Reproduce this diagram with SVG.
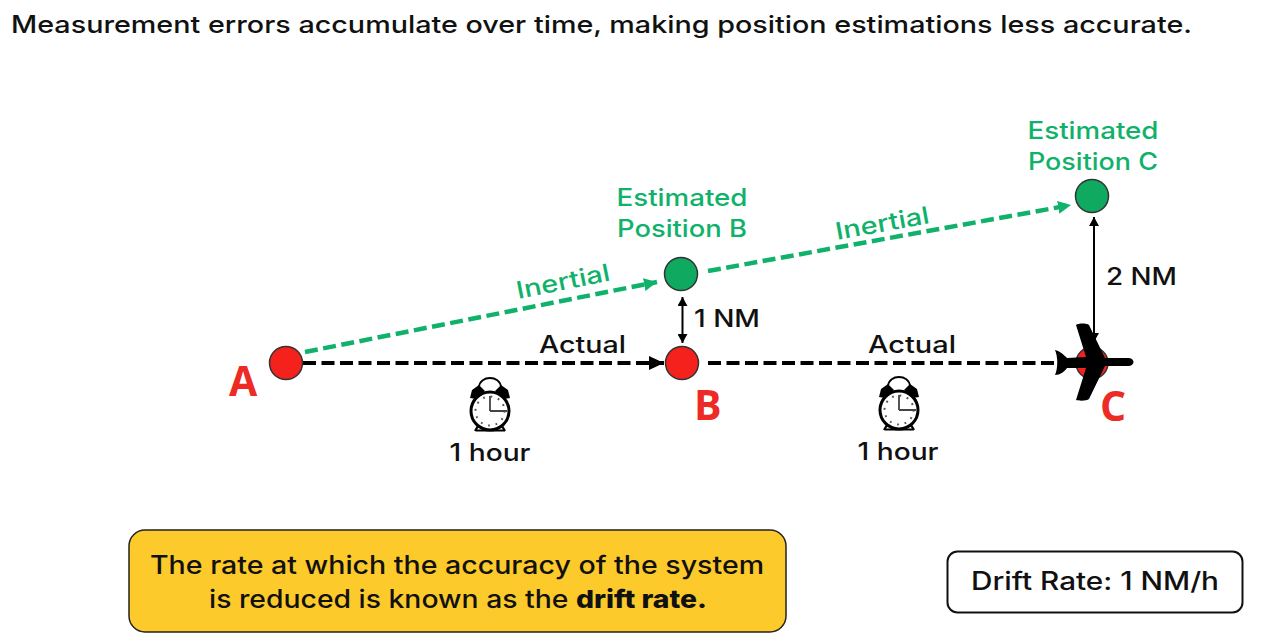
<svg xmlns="http://www.w3.org/2000/svg" width="1275" height="639" viewBox="0 0 1275 639">
<defs>
<marker id="ab" markerWidth="16" markerHeight="14" refX="15" refY="7" orient="auto" markerUnits="userSpaceOnUse"><path d="M0 0L15 7L0 14Z" fill="#000"/></marker>
<marker id="ag" markerWidth="14" markerHeight="13" refX="13" refY="6.500" orient="auto" markerUnits="userSpaceOnUse"><path d="M0 0L13 6.500L0 13Z" fill="#10b26b"/></marker>
<marker id="as" markerWidth="11" markerHeight="10" refX="9" refY="5" orient="auto-start-reverse" markerUnits="userSpaceOnUse"><path d="M0 0L9 5L0 10Z" fill="#000"/></marker>
<g id="clock">
<path d="M-11 -24C-10 -36 10 -36 11 -24V-19M-11 -24V-19" fill="none" stroke="#000" stroke-width="1.800"/>
<path d="M-20 -13L-18 -21L-11 -26L-5 -20L-14 -12Z M20 -13L18 -21L11 -26L5 -20L14 -12Z" fill="#000"/>
<path d="M-12 15L-15 20M12 15L15 20M-15 19.500H15" stroke="#000" stroke-width="2.200"/>
<circle r="19" fill="#fff" stroke="#000" stroke-width="3"/>
<path d="M0 0V-15M0 0H17" stroke="#444" stroke-width="1.800" fill="none"/>
<circle r="14.500" fill="none" stroke="#555" stroke-width="2" stroke-dasharray="1.800 5.800"/>
</g>
</defs>
<style>
text{font-family:Inter,"Liberation Sans",sans-serif;font-weight:500}
.k{font-size:24px;fill:#111}
.g{font-size:24px;fill:#10b26b}
.r{font-family:"Open Sans","Liberation Sans",sans-serif;font-size:41px;font-weight:700;fill:#ee2a24}
.red{fill:#f5211d;stroke:#333;stroke-width:1.500}
.grn{fill:#0fa95f;stroke:#333;stroke-width:1.500}
.db{stroke:#000;stroke-width:4;fill:none;stroke-dasharray:13 5.500}
.dg{stroke:#10b26b;stroke-width:4.500;fill:none;stroke-dasharray:13 5.500}
.ar{stroke:#000;stroke-width:2;fill:none;marker-start:url(#as);marker-end:url(#as)}
</style>
<rect width="1275" height="639" fill="#fff"/>
<text id="title" x="11" y="33" font-size="24" textLength="1181" lengthAdjust="spacingAndGlyphs" fill="#111">Measurement errors accumulate over time, making position estimations less accurate.</text>
<g id="connectors">
<path class="db" d="M303 363H664" marker-end="url(#ab)"/>
<path class="db" d="M708 363H1060"/>
<path class="dg" d="M305 352L657 282" marker-end="url(#ag)"/>
<path class="dg" d="M708 271L1071 205" marker-end="url(#ag)"/>
<path class="ar" d="M682.500 297V343"/>
<path class="ar" d="M1094 217V342"/>
</g>
<g id="node-a"><circle class="red" cx="286" cy="363" r="16.500"/><text class="r" x="229" y="396">A</text></g>
<g id="node-b"><circle class="red" cx="682" cy="363" r="16.500"/><text class="r" x="694" y="420">B</text></g>
<g id="node-c">
<circle class="red" cx="1092" cy="363" r="16"/>
<path fill="#000" d="M1055 350C1060 351 1064 355 1067 358L1086 357L1076 325C1078 323 1087 323 1089 325L1105 358L1129 358C1135 359 1135 365 1129 366L1105 366L1089 399C1087 401 1079 401 1076 400L1086 368L1067 368C1064 372 1060 375 1055 375C1058 368 1058 357 1055 350Z"/>
<text class="r" x="1100" y="421">C</text></g>
<g id="node-est-b"><circle class="grn" cx="681" cy="274" r="16.500"/><text class="g" x="682" y="206" text-anchor="middle" textLength="131" lengthAdjust="spacingAndGlyphs">Estimated</text><text class="g" x="682" y="237" text-anchor="middle" textLength="130" lengthAdjust="spacingAndGlyphs">Position B</text></g>
<g id="node-est-c"><circle class="grn" cx="1092" cy="196" r="16.500"/><text class="g" x="1093" y="139" text-anchor="middle" textLength="131" lengthAdjust="spacingAndGlyphs">Estimated</text><text class="g" x="1093" y="170" text-anchor="middle" textLength="130" lengthAdjust="spacingAndGlyphs">Position C</text></g>
<g id="labels">
<text class="g" transform="translate(518 299) rotate(-11.300)" textLength="95" lengthAdjust="spacingAndGlyphs">Inertial</text>
<text class="g" transform="translate(837 240) rotate(-10.300)" textLength="95" lengthAdjust="spacingAndGlyphs">Inertial</text>
<text class="k" x="539" y="353" textLength="87" lengthAdjust="spacingAndGlyphs">Actual</text>
<text class="k" x="868" y="353" textLength="88" lengthAdjust="spacingAndGlyphs">Actual</text>
<text class="k" x="694" y="327" textLength="66" lengthAdjust="spacingAndGlyphs">1 NM</text>
<text class="k" x="1106" y="285" textLength="71" lengthAdjust="spacingAndGlyphs">2 NM</text>
</g>
<g id="clock-1"><use href="#clock" x="490" y="411"/><text class="k" x="490" y="461" text-anchor="middle" textLength="81" lengthAdjust="spacingAndGlyphs">1 hour</text></g>
<g id="clock-2"><use href="#clock" x="899" y="410"/><text class="k" x="898" y="460" text-anchor="middle" textLength="81" lengthAdjust="spacingAndGlyphs">1 hour</text></g>
<g id="callout"><rect x="129" y="530" width="657" height="102" rx="16" fill="#fdca2b" stroke="#222" stroke-width="1.500"/>
<text class="k" x="457" y="574" text-anchor="middle" textLength="614" lengthAdjust="spacingAndGlyphs" style="font-size:25px">The rate at which the accuracy of the system</text>
<text class="k" x="458" y="608" text-anchor="middle" textLength="498" lengthAdjust="spacingAndGlyphs" style="font-size:25px">is reduced is known as the <tspan font-weight="800">drift rate.</tspan></text></g>
<g id="drift"><rect x="947.500" y="551.500" width="295" height="61" rx="10" fill="#fff" stroke="#111" stroke-width="2"/>
<text class="k" x="1095" y="590" text-anchor="middle" textLength="248" lengthAdjust="spacingAndGlyphs" style="font-size:25px">Drift Rate: 1 NM/h</text></g>
</svg>
